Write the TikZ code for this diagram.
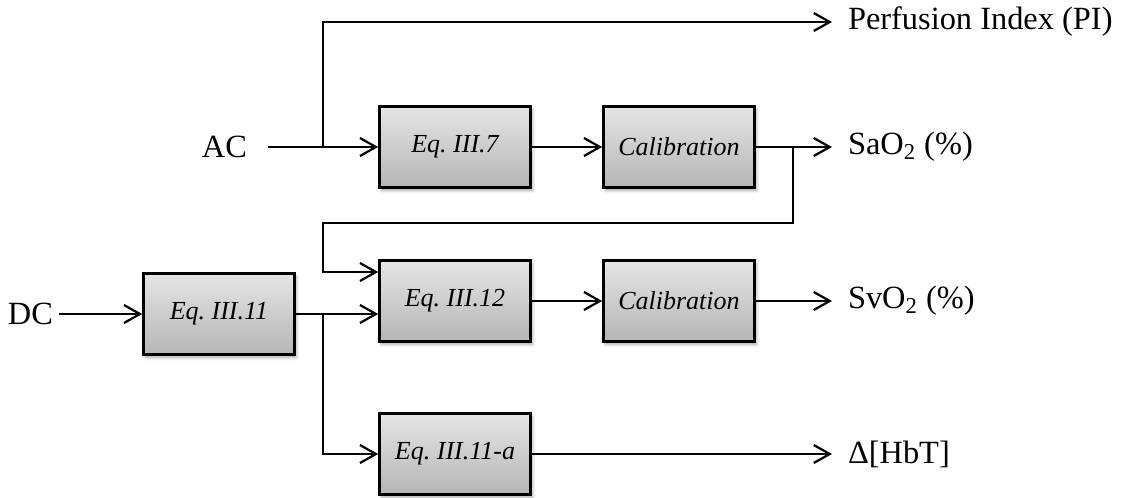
\documentclass[tikz,border=0pt]{standalone}
\usepackage{fontspec}
\setmainfont{Liberation Serif}
\usetikzlibrary{arrows.meta,shadows.blur}

\tikzset{
  block/.style={draw,line width=1.3pt,top color=gray!20,bottom color=gray!58,
    minimum width=75.5pt,minimum height=40.5pt,inner sep=0pt,
    font=\fontsize{13}{15}\selectfont\itshape,
    blur shadow={shadow xshift=1pt,shadow yshift=-1.5pt,shadow blur radius=1.5pt,shadow opacity=35}},
  outlabel/.style={font=\fontsize{16.2}{19}\selectfont,inner sep=0pt,outer xsep=8pt,anchor=west},
  inlabel/.style={font=\fontsize{16.2}{19}\selectfont,inner sep=0pt,anchor=east},
  link/.style={line width=1.1pt}
}

\begin{document}
\begin{tikzpicture}[x=0.5pt,y=-0.5pt,>={Straight Barb[length=8pt,width=9pt]}]
    \useasboundingbox (0,0) rectangle (1121,498);

    \node[inlabel,outer xsep=10.5pt] (ac) at (268,147) {AC};
    \node[inlabel,outer xsep=3pt] (dc) at (59,314) {DC};

    \node[block] (eq7) at (455,147) {Eq.\ III.7};
    \node[block] (cal1) at (679,147) {Calibration};
    \node[block] (eq11) at (219,314) {Eq.\ III.11};
    \node[block] (eq12) at (455,301) {Eq.\ III.12};
    \node[block] (cal2) at (679,301) {Calibration};
    \node[block] (eq11a) at (455,454) {Eq.\ III.11-a};

    \node[outlabel] (pi) at (832,22) {Perfusion Index (PI)};
    \node[outlabel] (sao2) at (832,147) {SaO\textsubscript{2} (\%)};
    \node[outlabel] (svo2) at (832,301) {SvO\textsubscript{2} (\%)};
    \node[outlabel] (hbt) at (832,454) {Δ[HbT]};

    \coordinate (split1) at (323,147);
    \coordinate (split2) at (323,314);
    \coordinate (tap) at (793,147);
    \coordinate (fbturn) at (323,223);
    \coordinate (in12a) at ([yshift=14.5pt]eq12.west);
    \coordinate (in12b) at (eq11.east -| eq12.west);

    \draw[link,->] (ac) -- (eq7);
    \draw[link,->] (split1) |- (pi);
    \draw[link,->] (eq7) -- (cal1);
    \draw[link,->] (cal1) -- (sao2);
    \draw[link,->] (tap) |- (fbturn) -- (fbturn |- in12a) -- (in12a);

    \draw[link,->] (dc) -- (eq11);
    \draw[link,->] (eq11) -- (in12b);
    \draw[link,->] (split2) |- (eq11a);
    \draw[link,->] (eq12) -- (cal2);
    \draw[link,->] (cal2) -- (svo2);
    \draw[link,->] (eq11a) -- (hbt);
\end{tikzpicture}
\end{document}
